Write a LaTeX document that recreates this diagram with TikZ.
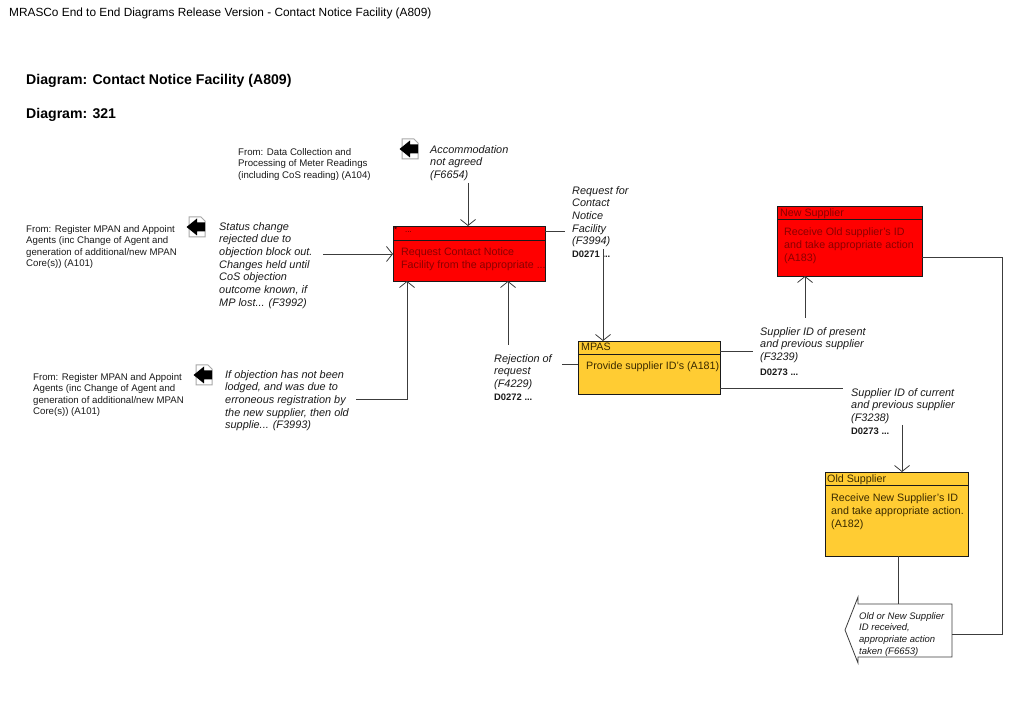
\documentclass[tikz,border=0pt]{standalone}
\usepackage{fontspec}
\setmainfont{Liberation Sans}
\usetikzlibrary{arrows.meta,positioning}
\definecolor{Ink}{HTML}{1A1A1A}
\definecolor{Flow}{HTML}{3C3C3C}
\definecolor{Alarm}{HTML}{FF0000}
\definecolor{Amber}{HTML}{FFCC33}
\definecolor{AlarmText}{HTML}{8A0000}
\definecolor{AmberText}{HTML}{3A2A00}
\definecolor{Fold}{HTML}{A8A8A8}

\begin{document}
\begin{tikzpicture}[
  x=1pt,y=-1pt,
  redbox/.style={draw=Ink,fill=Alarm,thick,outer sep=0pt,inner sep=0pt},
  ambox/.style={draw=Ink,fill=Amber,thick,outer sep=0pt,inner sep=0pt},
  redtext/.style={anchor=north west,inner sep=0pt,align=left,text=AlarmText,font=\fontsize{10.7}{12.6}\selectfont},
  amtext/.style={anchor=north west,inner sep=0pt,align=left,text=AmberText,font=\fontsize{10.7}{12.6}\selectfont},
  flow/.style={anchor=north west,inner sep=0pt,align=left,text=Ink,font=\fontsize{10.9}{12.7}\selectfont\itshape},
  from/.style={anchor=north west,inner sep=0pt,align=left,text=Ink,font=\fontsize{9.65}{11.6}\selectfont},
  dataref/.style={anchor=north west,inner sep=0pt,text=Ink,font=\fontsize{9.4}{10}\selectfont\bfseries},
  head/.style={anchor=north west,inner sep=0pt,text=black,font=\fontsize{14.1}{16}\selectfont\bfseries},
  arrow/.style={-{Straight Barb[length=6pt,width=15pt]},thick,draw=Flow},
  plain/.style={thick,draw=Flow},
  backicon/.pic={
    \draw[draw=Fold,fill=white,line width=1pt] (-7,-10) -- (5,-10) -- (9,-6) -- (9,10) -- (-7,10) -- cycle;
    \fill[black] (-9.5,0) -- (1,-8.5) -- (1,-4.5) -- (9,-4.5) -- (9,4.5) -- (1,4.5) -- (1,8.5) -- cycle;
  }
]
\useasboundingbox (0,0) rectangle (1023,708);
\node[anchor=north west,inner sep=0pt,font=\fontsize{11.85}{14}\selectfont] (pagetitle) at (9,8) {MRASCo End to End Diagrams Release Version - Contact Notice Facility (A809)};
\node[head] (diagname) at (26,74) {Diagram: Contact Notice Facility (A809)};
\node[head] (diagnum) at (26,108) {Diagram: 321};

% activity boxes
\node[redbox,minimum width=152,minimum height=55] (a809) at (469,253.5) {};
\node[redbox,minimum width=145,minimum height=70] (a183) at (849.5,241) {};
\node[ambox,minimum width=142,minimum height=53] (a181) at (649,367.5) {};
\node[ambox,minimum width=143,minimum height=84] (a182) at (896.5,514) {};
\draw[thick,draw=Ink] (a809.west |- 0,240) -- (a809.east |- 0,240);
\draw[thick,draw=Ink] (a183.west |- 0,219) -- (a183.east |- 0,219);
\draw[thick,draw=Ink] (a181.west |- 0,354) -- (a181.east |- 0,354);
\draw[thick,draw=Ink] (a182.west |- 0,485) -- (a182.east |- 0,485);
\node[redtext,text=black,font=\fontsize{8}{8}\selectfont] (a809star) at (394,227) {*};
\node[redtext,text=black!70!red,font=\fontsize{8}{8}\selectfont] (a809dots) at (405,231) {...};
\node[redtext] (a809t) at (401,248) {Request Contact Notice\\Facility from the appropriate ...};
\node[redtext] (a183h) at (780,209) {New Supplier};
\node[redtext] (a183t) at (784,228) {Receive Old supplier's ID\\and take appropriate action\\(A183)};
\node[amtext] (a181h) at (581,343) {MPAS};
\node[amtext] (a181t) at (586,362) {Provide supplier ID's (A181)};
\node[amtext] (a182h) at (827,475) {Old Supplier};
\node[amtext] (a182t) at (831,494) {Receive New Supplier's ID\\and take appropriate action.\\(A182)};

% source texts
\node[from] (a104) at (238,148) {From: Data Collection and\\Processing of Meter Readings\\(including CoS reading) (A104)};
\node[from] (a101a) at (26,225) {From: Register MPAN and Appoint\\Agents (inc Change of Agent and\\generation of additional/new MPAN\\Core(s)) (A101)};
\node[from] (a101b) at (33,373) {From: Register MPAN and Appoint\\Agents (inc Change of Agent and\\generation of additional/new MPAN\\Core(s)) (A101)};

% flows
\node[flow] (f6654) at (430,145) {Accommodation\\not agreed\\(F6654)};
\node[flow] (f3992) at (219,222) {Status change\\rejected due to\\objection block out.\\Changes held until\\CoS objection\\outcome known, if\\MP lost... (F3992)};
\node[flow] (f3993) at (225,370) {If objection has not been\\lodged, and was due to\\erroneous registration by\\the new supplier, then old\\supplie... (F3993)};
\node[flow] (f3994) at (572,186) {Request for\\Contact\\Notice\\Facility\\(F3994)};
\node[dataref] (d0271) at (572,251) {D0271 ...};
\node[flow] (f4229) at (494,354) {Rejection of\\request\\(F4229)};
\node[dataref] (d0272) at (494,394) {D0272 ...};
\node[flow] (f3239) at (760,327) {Supplier ID of present\\and previous supplier\\(F3239)};
\node[dataref] (d0273a) at (760,369) {D0273 ...};
\node[flow] (f3238) at (851,388) {Supplier ID of current\\and previous supplier\\(F3238)};
\node[dataref] (d0273b) at (851,428) {D0273 ...};

% off-page flow
\node[inner sep=0pt,minimum width=94,minimum height=53,outer sep=0pt] (f6653) at (905,630.5) {};
\draw[thick,draw=Flow,fill=white] (f6653.north east) -- (f6653.north west) -- (858,597) -- (845,630) -- (858,663) -- (f6653.south west) -- (f6653.south east) -- cycle;
\node[flow,font=\fontsize{9.5}{11.8}\selectfont\itshape] (f6653t) at (859,612) {Old or New Supplier\\ID received,\\appropriate action\\taken (F6653)};

% off-page icons
\pic at (196,227) {backicon};
\pic at (203,375) {backicon};
\pic at (409,149) {backicon};

% connectors
\coordinate (c6654) at (468,183);
\coordinate (c3992) at (323,254);
\coordinate (c3993) at (356,399);
\coordinate (c4229) at (508,345);
\coordinate (c3994a) at (565,231);
\coordinate (c3994b) at (603,249);
\coordinate (c3239a) at (753,351);
\coordinate (c3239b) at (805,318);
\coordinate (c4229b) at (562,364);
\coordinate (c3238a) at (843,388);
\coordinate (c3238b) at (902,425);
\draw[arrow] (c6654) -- (c6654 |- a809.north);
\draw[arrow] (c3992) -- (c3992 -| a809.west);
\draw[arrow] (c3993) -| (a809.south west -| 407,0);
\draw[arrow] (c4229) -- (c4229 |- a809.south);
\draw[plain] (c3994a -| a809.east) -- (c3994a);
\draw[arrow] (c3994b) -- (c3994b |- a181.north);
\draw[plain] (c3239a -| a181.east) -- (c3239a);
\draw[arrow] (c3239b) -- (c3239b |- a183.south);
\draw[plain] (c4229b -| a181.west) -- (c4229b);
\draw[plain] (c3238a -| a181.east) -- (c3238a);
\draw[arrow] (c3238b) -- (c3238b |- a182.north);
\draw[plain] (898,0 |- a182.south) -- (898,0 |- f6653.north);
\draw[plain] (a183.east |- 0,257) -- (1002,257) |- (f6653.east |- 0,634);
\end{tikzpicture}
\end{document}
